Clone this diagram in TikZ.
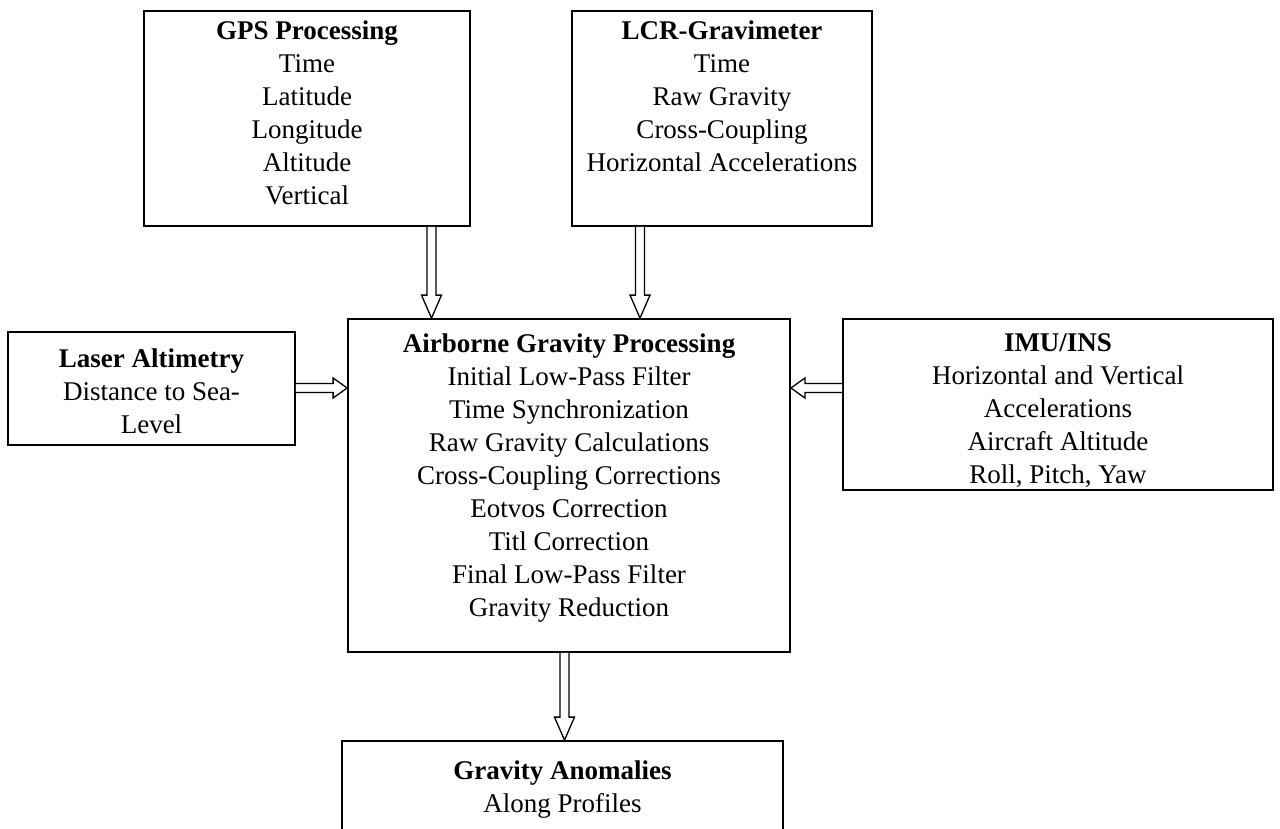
\documentclass[tikz,border=0pt]{standalone}
\usepackage{fontspec}
\setmainfont{Liberation Serif}
\usetikzlibrary{calc}
\newcommand\hollowdown[2]{\draw[arr] ($(#1)+(-4.5,0)$) -- ($(#2)+(-4.5,-23)$) -- ($(#2)+(-10,-23)$) -- (#2) -- ($(#2)+(10,-23)$) -- ($(#2)+(4.5,-23)$) -- ($(#1)+(4.5,0)$);}
\newcommand\hollowright[2]{\draw[arr] ($(#1)+(0,-4.5)$) -- ($(#2)+(-14,-4.5)$) -- ($(#2)+(-14,-10)$) -- (#2) -- ($(#2)+(-14,10)$) -- ($(#2)+(-14,4.5)$) -- ($(#1)+(0,4.5)$);}
\newcommand\hollowleft[2]{\draw[arr] ($(#1)+(0,-4.5)$) -- ($(#2)+(14,-4.5)$) -- ($(#2)+(14,-10)$) -- (#2) -- ($(#2)+(14,10)$) -- ($(#2)+(14,4.5)$) -- ($(#1)+(0,4.5)$);}
\begin{document}
\begin{tikzpicture}[x=1pt,y=-1pt,
  box/.style={draw, line width=1.8pt, rectangle, inner sep=0pt},
  txt/.style={align=center, font=\fontsize{27}{33}\selectfont, inner sep=0pt, anchor=north},
  arr/.style={draw, line width=1.3pt, fill=white, line join=miter}]
\useasboundingbox (0,0) rectangle (1280,828);
\begin{scope}
\clip (0,0) rectangle (1280,828);
\node[box, minimum width=326, minimum height=215] (gps) at (307,118.5) {};
\node[txt] (gpst) at ($(gps.north)+(0,10)$) {\textbf{GPS Processing}\\Time\\Latitude\\Longitude\\Altitude\\Vertical};
\node[box, minimum width=300, minimum height=215] (lcr) at (722,118.5) {};
\node[txt] (lcrt) at ($(lcr.north)+(0,10)$) {\textbf{LCR-Gravimeter}\\Time\\Raw Gravity\\Cross-Coupling\\Horizontal Accelerations};
\node[box, minimum width=287, minimum height=113] (las) at (151.5,388.5) {};
\node[txt] (last) at ($(las.north)+(0,17)$) {\textbf{Laser Altimetry}\\Distance to Sea-\\Level};
\node[box, minimum width=442, minimum height=333] (cen) at (569,485.5) {};
\node[txt] (cent) at ($(cen.north)+(0,15)$) {\textbf{Airborne Gravity Processing}\\Initial Low-Pass Filter\\Time Synchronization\\Raw Gravity Calculations\\Cross-Coupling Corrections\\Eotvos Correction\\Titl Correction\\Final Low-Pass Filter\\Gravity Reduction};
\node[box, minimum width=430, minimum height=171] (imu) at (1058,404.5) {};
\node[txt] (imut) at ($(imu.north)+(0,15)$) {\textbf{IMU/INS}\\Horizontal and Vertical\\Accelerations\\Aircraft Altitude\\Roll, Pitch, Yaw};
\node[box, minimum width=441, minimum height=160] (ano) at (562.5,821) {};
\node[txt] (anot) at ($(ano.north)+(0,20)$) {\textbf{Gravity Anomalies}\\Along Profiles};
\end{scope}
\coordinate (xa) at (431.5,0);
\coordinate (xb) at (640,0);
\coordinate (xc) at (564.5,0);
\coordinate (ya) at (0,388);
\coordinate (yb) at (0,388);
\coordinate (a1) at (gps.south -| xa);
\coordinate (a2) at (cen.north -| xa);
\coordinate (b1) at (lcr.south -| xb);
\coordinate (b2) at (cen.north -| xb);
\coordinate (c1) at (cen.south -| xc);
\coordinate (c2) at (ano.north -| xc);
\coordinate (d1) at (las.east |- ya);
\coordinate (d2) at (cen.west |- ya);
\coordinate (e1) at (imu.west |- yb);
\coordinate (e2) at (cen.east |- yb);
\hollowdown{a1}{a2}
\hollowdown{b1}{b2}
\hollowdown{c1}{c2}
\hollowright{d1}{d2}
\hollowleft{e1}{e2}
\end{tikzpicture}
\end{document}
